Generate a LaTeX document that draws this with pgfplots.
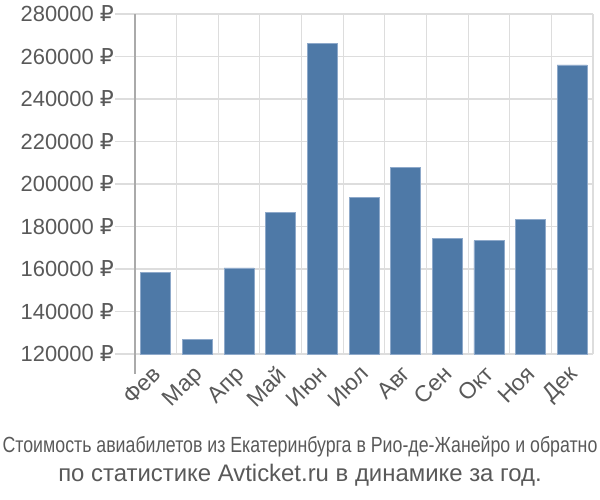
\documentclass[border=0pt]{standalone}
\usepackage{fontspec}
\setmainfont{Liberation Sans}
\newfontfamily\narrowfont[FakeStretch=0.81]{Liberation Sans}
\newfontfamily\rubfont{DejaVu Sans}
\newcommand{\rub}{{\rubfont ₽}}
\usepackage{pgfplots}
\pgfplotsset{compat=1.18}
\definecolor{barblue}{HTML}{4E79A7}
\definecolor{baredge}{HTML}{8EA9CA}
\definecolor{gridgray}{HTML}{DDDDDD}
\definecolor{axisgray}{HTML}{AAAAAA}
\definecolor{textgray}{HTML}{595959}

\pgfplotstableread{
idx price
0 158300
1 127000
2 160500
3 186800
4 266000
5 193500
6 207800
7 174300
8 173300
9 183500
10 256000
}\prices

\begin{document}
\begin{tikzpicture}[x=1bp,y=1bp]
\useasboundingbox (0,0) rectangle (600,500);
\begin{axis}[
    at={(135bp,146bp)}, anchor=south west,
    width=458bp, height=340bp, scale only axis,
    ybar, bar width=30bp,
    xmin=-0.5, xmax=10.5,
    ymin=120000, ymax=280000,
    scaled y ticks=false,
    xtick={0,1,2,3,4,5,6,7,8,9,10},
    xticklabels={Фев,Мар,Апр,Май,Июн,Июл,Авг,Сен,Окт,Ноя,Дек},
    minor xtick={-0.5,0.5,1.5,2.5,3.5,4.5,5.5,6.5,7.5,8.5,9.5,10.5},
    ytick={120000,140000,160000,180000,200000,220000,240000,260000,280000},
    yticklabels={120000 \rub,140000 \rub,160000 \rub,180000 \rub,200000 \rub,220000 \rub,240000 \rub,260000 \rub,280000 \rub},
    xmajorgrids=false, xminorgrids=true, ymajorgrids=true,
    grid style={gridgray, line width=1.1bp},
    minor grid style={gridgray, line width=1.1bp},
    axis x line*=bottom, axis y line*=left,
    x axis line style={gridgray, line width=1.1bp, -},
    y axis line style={axisgray, line width=1.5bp, -},
    tick align=outside,
    major tick length=20bp, minor tick length=20bp,
    x tick style={draw=none},
    minor x tick style={gridgray, line width=1.1bp},
    y tick style={gridgray, line width=1.1bp},
    tick label style={font=\fontsize{22}{26}\selectfont, text=textgray},
    yticklabel style={inner sep=1bp},
    xticklabel style={xshift=-5bp, yshift=10bp, rotate=45, anchor=north east, inner sep=0bp, font=\fontsize{23}{26}\selectfont},
    clip=false,
]
\addplot[fill=barblue, draw=baredge, line width=0.8bp] table[x=idx, y=price] {\prices};
\draw[axisgray, line width=1.5bp] (axis cs:-0.5,120000) -- ++(0pt,-20bp);
\end{axis}
\node[text=textgray, font=\narrowfont\fontsize{22}{26}\selectfont] at (300,53) {Стоимость авиабилетов из Екатеринбурга в Рио-де-Жанейро и обратно};
\node[text=textgray, font=\fontsize{24}{28}\selectfont] at (300,25) {по статистике Avticket.ru в динамике за год.};
\end{tikzpicture}
\end{document}
